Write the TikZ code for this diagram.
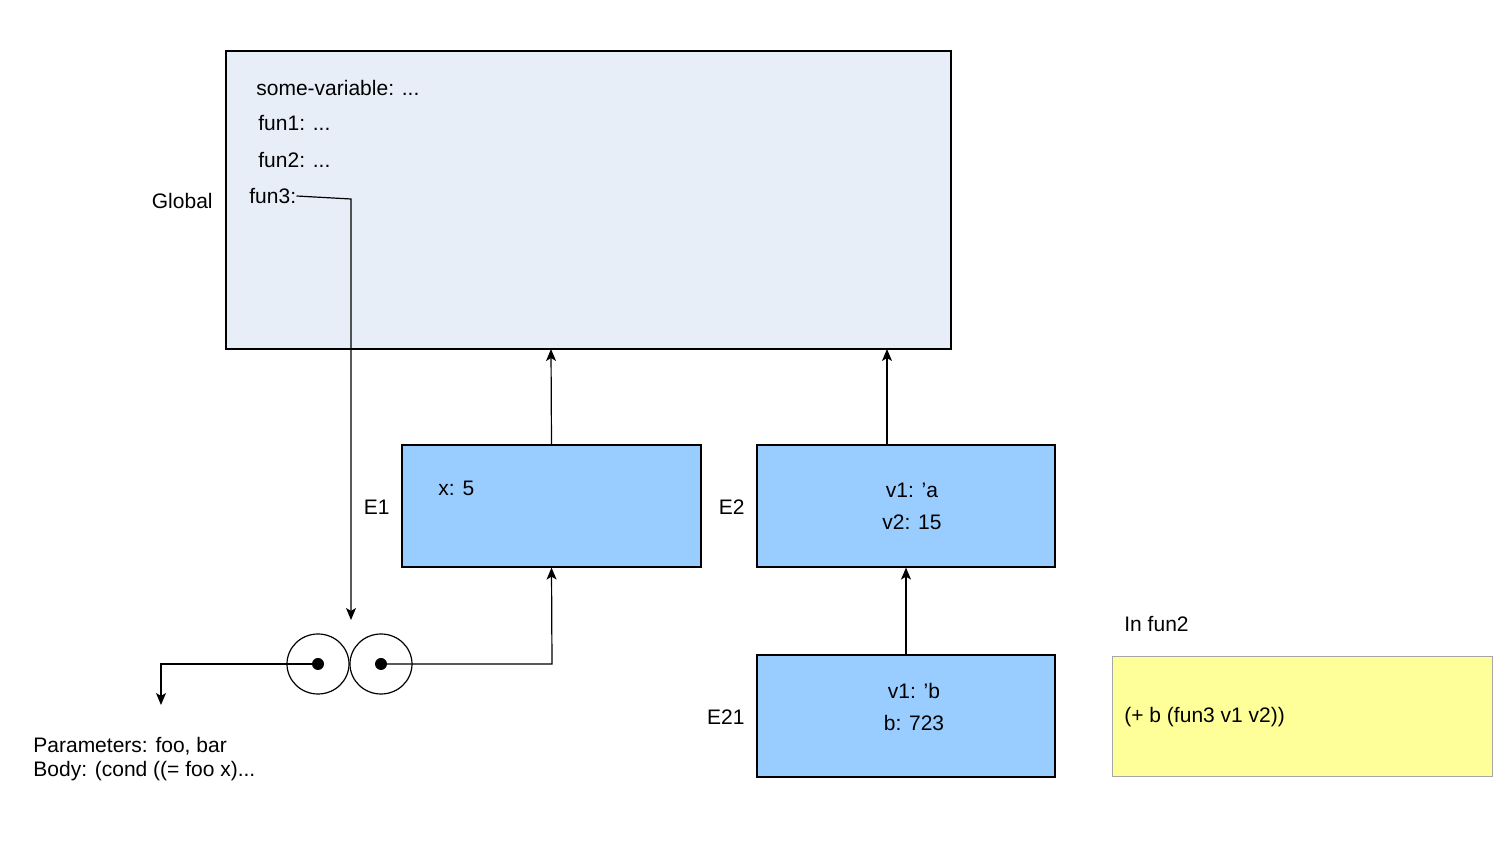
\documentclass[tikz,border=0pt]{standalone}
\usepackage{fontspec}
\setmainfont{Liberation Sans}
\usetikzlibrary{arrows.meta,shapes.geometric}
\begin{document}
\begin{tikzpicture}[x=0.5pt,y=-0.5pt,font=\fontsize{10.5}{12}\selectfont,
  env/.style={draw,fill=envblue,line width=0.6pt},
  arr/.style={-{Stealth[length=6pt,width=5pt,inset=1.5pt]},line width=0.6pt},
  txt/.style={inner sep=0pt,anchor=west}]
\definecolor{envblue}{HTML}{99CCFF}
\definecolor{globfill}{HTML}{E8EEF8}
\definecolor{yel}{HTML}{FFFF99}
\useasboundingbox (0,0) rectangle (1512,860);
\draw[fill=globfill,line width=0.6pt] (226,51) rectangle (951,349);
\coordinate (gE1) at (551,349);
\coordinate (gE2) at (887,349);
\node[txt] at (256,88) {some-variable: ...};
\node[txt] at (258,123) {fun1: ...};
\node[txt] at (258,160) {fun2: ...};
\node[txt] (f3) at (249,196) {fun3:};
\node[anchor=east,inner sep=0pt] at (213,201) {Global};
\node[env,minimum width=149.5pt,minimum height=61pt,inner sep=0pt] (E1) at (551.5,506) {};
\node[txt] at (438,488) {x: 5};
\node[anchor=east,inner sep=0pt] at (390,507) {E1};
\node[env,minimum width=149pt,minimum height=61pt,inner sep=0pt] (E2) at (906,506) {};
\node[inner sep=0pt,align=center] at (912,506) {v1: 'a\\[4pt]v2: 15};
\node[anchor=east,inner sep=0pt] at (745,507) {E2};
\node[env,minimum width=149pt,minimum height=61pt,inner sep=0pt] (E21) at (906,716) {};
\node[inner sep=0pt,align=center] at (914,707) {v1: 'b\\[4pt]b: 723};
\node[anchor=east,inner sep=0pt] at (745,717) {E21};
\node[draw=gray!70,fill=yel,minimum width=190pt,minimum height=60pt,inner sep=0pt] (Y) at (1302,716) {};
\node[txt] at (1124,717) {(+ b (fun3 v1 v2))};
\node[txt] at (1124,624) {In fun2};
\node[draw,ellipse,minimum width=31pt,minimum height=30pt,inner sep=0pt,line width=0.6pt] (c1) at (318,664) {};
\node[draw,ellipse,minimum width=31pt,minimum height=30pt,inner sep=0pt,line width=0.6pt] (c2) at (381,664) {};
\fill (c1.center) circle (3pt);
\fill (c2.center) circle (3pt);
\coordinate (pend) at (161,705);
\coordinate (fend) at (351,620);
\node[anchor=north west,inner sep=0pt,align=left] at (33,737) {Parameters: foo, bar\\Body: (cond ((= foo x)...};
\draw[arr] (f3.east) -- (351,199) -- (fend);
\draw[arr] (E1.north) -- (gE1);
\draw[arr] (E2.north -| gE2) -- (gE2);
\draw[arr] (E21.north) -- (E2.south);
\draw[arr] (c2.center) -- (552,664) -- (E1.south);
\draw[arr] (c1.center) -- (161,664) -- (pend);
\end{tikzpicture}
\end{document}
